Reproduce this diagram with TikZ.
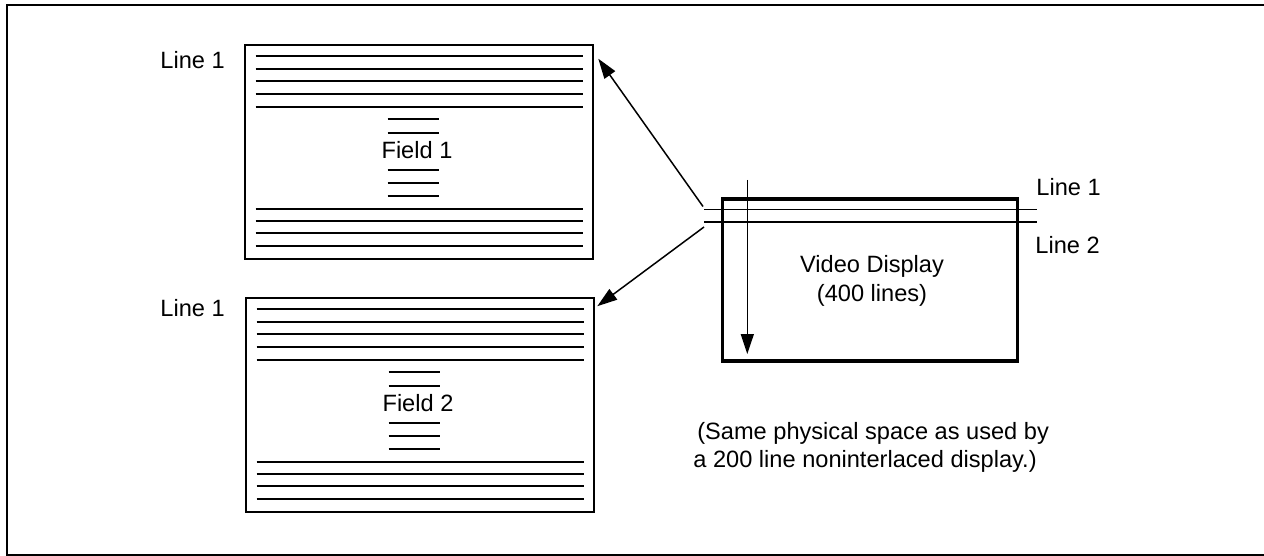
\documentclass[tikz,border=0pt]{standalone}
\usepackage{fontspec}
\setmainfont{Liberation Sans}
\usetikzlibrary{arrows.meta,calc}
\tikzset{
  fieldbox/.style={draw, line width=1.3pt, minimum width=174pt, minimum height=107pt, inner sep=0pt},
  videobox/.style={draw, line width=1.8pt, minimum width=147.5pt, minimum height=81pt, inner sep=0pt},
  scanline/.style={line width=0.85pt},
  lbl/.style={inner sep=0pt, font=\fontsize{11.8}{14.3}\selectfont},
  ptr/.style={line width=0.75pt, -{Triangle[length=10pt,width=6.5pt]}},
  frame/.style={line width=1.2pt}
}
\begin{document}
\begin{tikzpicture}[x=0.5pt,y=-0.5pt]
\useasboundingbox (0,0) rectangle (1264,556);
\draw[frame] (1264,5) -- (7,5) -- (7,555) -- (1264,555);

% Field boxes
\node[fieldbox] (f1) at (419,152) {};
\node[fieldbox] (f2) at (420,405) {};
\foreach \b in {f1,f2}{
  \foreach \y in {12,25,37.5,50.5,63,165,177,189.5,202}{
    \draw[scanline] ($(\b.north west)+(12,\y)$) -- ($(\b.north east)+(-11,\y)$);
  }
  \foreach \y in {75.5,89,126.5,139,152}{
    \draw[scanline] ($(\b.north west)+(144,\y)$) -- ($(\b.north west)+(195,\y)$);
  }
}
\node[lbl] (f1t) at (417,150) {Field 1};
\node[lbl] (f2t) at (418,403) {Field 2};
\node[lbl, anchor=west] (f1l) at (160,60) {Line 1};
\node[lbl, anchor=west] (f2l) at (160,308) {Line 1};

% Video display
\node[videobox] (vd) at (870,280) {};
\node[lbl, align=center] (vdt) at (872,281) {Video Display\\(400 lines)};
\coordinate (l1a) at (704,209.5);
\coordinate (l1b) at (1037,209.5);
\coordinate (l2a) at (704,221.7);
\coordinate (l2b) at (1037,221.7);
\draw[scanline] (l1a) -- (l1b);
\draw[scanline] (l2a) -- (l2b);
\node[lbl, anchor=west] (r1) at (1036,187) {Line 1};
\node[lbl, anchor=west] (r2) at (1035,245) {Line 2};

% scan direction arrow
\coordinate (sa) at (747.3,180);
\draw[ptr] (sa) -- (747.3,354);

% arrows to fields
\coordinate (s1) at (703,206.5);
\coordinate (s2) at (704,227);
\draw[ptr] (s1) -- ($(f1.north east)+(4,15)$);
\draw[ptr] (s2) -- ($(f2.north east)+(2,9.5)$);

% note
\node[lbl, anchor=west, align=left] (note) at (693,447.5) {\,(Same physical space as used by\\a 200 line noninterlaced display.)};
\end{tikzpicture}
\end{document}
